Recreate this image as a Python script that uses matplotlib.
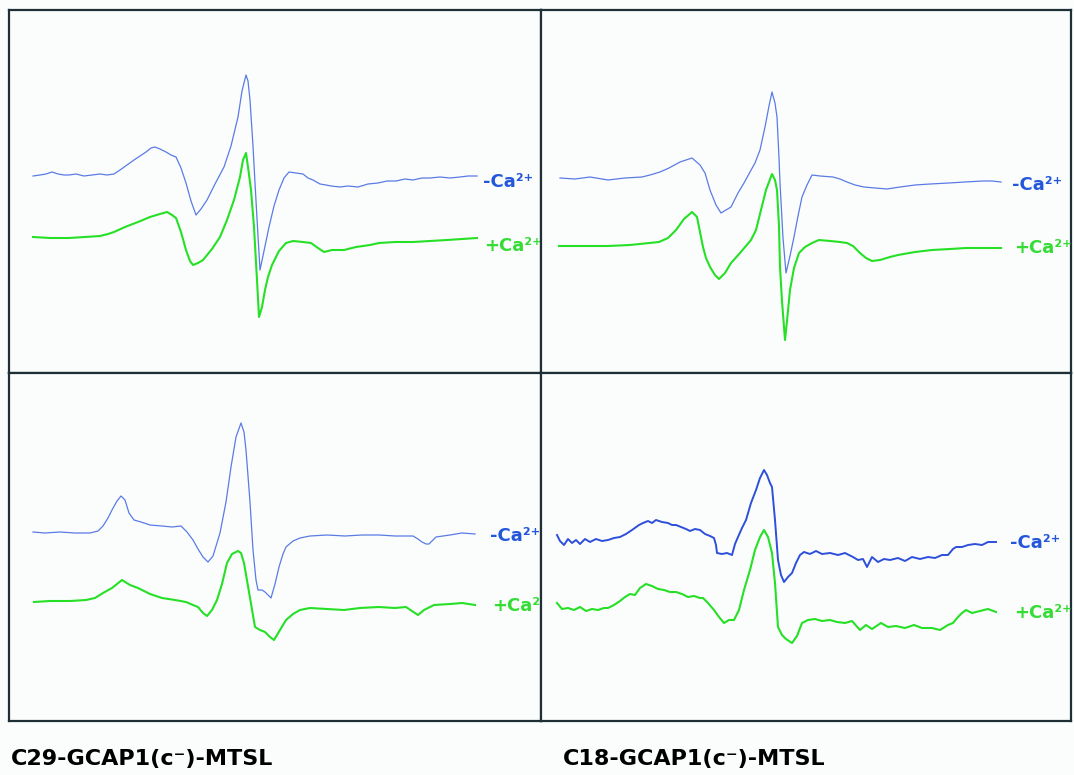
import matplotlib.pyplot as plt

# field position (arb. units) and signal amplitude for each spectrum
c29_minus_x = [33, 40, 46, 52, 58, 64, 69, 76, 84, 92, 100, 107, 114, 120, 127, 134, 140, 146, 151, 155, 160, 166, 171, 176, 181, 186, 191, 196, 201, 207, 215, 224, 231, 238, 242, 246, 248, 250, 253, 255, 258, 260, 264, 269, 274, 279, 284, 289, 296, 303, 308, 313, 320, 326, 331, 340, 348, 358, 368, 378, 387, 396, 405, 413, 422, 430, 440, 450, 460, 468, 477]
c29_minus_y = [0, 1, 2, 4, 2, 1, 1, 2, 0, 1, 2, 1, 2, 6, 11, 16, 20, 24, 28, 29, 27, 24, 21, 19, 8, -7, -25, -39, -33, -24, -8, 9, 30, 59, 85, 101, 95, 76, 30, -7, -60, -94, -75, -51, -30, -14, -2, 4, 3, 2, -2, -4, -8, -9, -10, -11, -10, -11, -8, -7, -5, -5, -3, -4, -2, -2, -1, -2, -1, 0, 0]

c29_plus_x = [33, 50, 69, 85, 100, 108, 114, 125, 138, 150, 160, 167, 172, 176, 181, 186, 190, 193, 198, 203, 212, 220, 227, 234, 240, 243, 246, 248, 251, 254, 257, 259, 262, 265, 268, 272, 279, 286, 293, 303, 311, 318, 324, 332, 344, 356, 370, 379, 395, 413, 430, 447, 462, 477]
c29_plus_y = [0, -1, -1, 0, 1, 3, 5, 10, 15, 20, 23, 25, 22, 19, 5, -13, -24, -28, -26, -23, -12, 0, 17, 37, 60, 77, 84, 70, 47, 10, -43, -80, -70, -53, -40, -28, -14, -6, -4, -5, -6, -11, -15, -13, -13, -10, -8, -6, -5, -5, -4, -3, -2, -1]

c18_minus_x = [560, 575, 590, 608, 625, 642, 650, 660, 669, 680, 692, 700, 705, 710, 716, 721, 726, 731, 738, 744, 750, 755, 760, 765, 769, 772, 775, 777, 779, 780, 783, 786, 790, 794, 798, 802, 807, 812, 820, 833, 840, 847, 855, 864, 875, 887, 900, 915, 930, 949, 965, 983, 992, 1001]
c18_minus_y = [0, -1, 1, -2, 0, 1, 3, 6, 10, 16, 20, 13, 5, -12, -27, -35, -32, -29, -15, -5, 6, 15, 28, 51, 72, 86, 75, 61, 20, -5, -60, -95, -78, -59, -38, -19, -7, 3, 2, 1, -1, -4, -7, -9, -10, -11, -9, -7, -6, -5, -4, -3, -3, -4]

c18_plus_x = [559, 580, 608, 630, 659, 668, 676, 684, 692, 697, 700, 703, 706, 710, 715, 719, 725, 731, 740, 751, 756, 761, 766, 772, 775, 777, 779, 780, 782, 785, 787, 790, 794, 799, 805, 812, 819, 830, 840, 847, 853, 860, 866, 872, 880, 890, 898, 915, 932, 950, 966, 985, 1001]
c18_plus_y = [0, 0, 0, 1, 4, 8, 16, 27, 34, 29, 14, -1, -12, -21, -29, -33, -27, -17, -7, 6, 16, 36, 56, 72, 66, 56, 20, -21, -55, -94, -75, -44, -22, -7, -1, 3, 6, 5, 4, 3, 0, -7, -12, -15, -14, -11, -9, -6, -4, -3, -2, -2, -2]

c29c_minus_x = [33, 45, 60, 75, 90, 98, 103, 108, 112, 117, 121, 125, 129, 134, 141, 150, 162, 172, 181, 187, 193, 198, 203, 208, 213, 220, 226, 231, 236, 241, 244, 246, 250, 253, 256, 258, 262, 265, 268, 271, 275, 279, 283, 286, 293, 300, 310, 327, 345, 362, 379, 395, 413, 418, 422, 426, 429, 433, 436, 450, 462, 475]
c29c_minus_y = [0, -1, 0, -1, -1, 1, 6, 14, 22, 31, 36, 32, 19, 12, 10, 7, 6, 5, 6, 0, -8, -17, -25, -30, -24, -1, 30, 65, 95, 109, 100, 82, 30, -18, -48, -58, -58, -60, -63, -66, -52, -35, -22, -15, -9, -6, -4, -3, -4, -3, -3, -4, -4, -7, -10, -12, -12, -8, -5, -3, -1, -2]

c29c_plus_x = [34, 50, 70, 86, 95, 103, 112, 122, 130, 138, 150, 162, 175, 186, 193, 198, 203, 207, 212, 217, 222, 227, 232, 238, 241, 244, 249, 255, 260, 265, 270, 274, 280, 286, 293, 300, 310, 327, 344, 360, 379, 395, 406, 412, 418, 424, 434, 450, 462, 475]
c29c_plus_y = [0, 1, 1, 2, 4, 9, 14, 22, 17, 14, 8, 4, 2, 0, -3, -5, -11, -14, -8, 2, 18, 39, 48, 51, 49, 39, 10, -25, -28, -30, -35, -38, -28, -18, -12, -8, -6, -7, -8, -6, -5, -6, -5, -9, -13, -8, -3, -2, -1, -3]

c18c_minus_x = [557, 560, 564, 568, 572, 576, 580, 585, 590, 596, 602, 608, 614, 620, 626, 632, 639, 643, 648, 652, 656, 662, 668, 672, 676, 681, 686, 690, 695, 700, 705, 710, 714, 716, 717, 722, 727, 732, 735, 738, 742, 746, 751, 756, 760, 764, 767, 770, 772, 775, 778, 781, 784, 788, 792, 796, 800, 804, 810, 816, 822, 830, 838, 845, 853, 858, 863, 867, 872, 878, 884, 890, 898, 905, 912, 920, 928, 935, 942, 948, 953, 956, 962, 968, 975, 982, 988, 996]
c18c_minus_y = [0, -6, -10, -4, -8, -5, -9, -4, -7, -4, -6, -5, -3, -2, 1, 5, 10, 12, 14, 12, 15, 13, 12, 10, 10, 8, 6, 4, 6, 5, 1, -1, -3, -10, -18, -19, -18, -20, -9, -2, 7, 15, 32, 45, 57, 65, 60, 52, 48, 15, -25, -40, -47, -42, -38, -28, -20, -17, -19, -16, -19, -18, -20, -18, -22, -25, -24, -32, -22, -27, -24, -25, -23, -26, -22, -24, -22, -23, -20, -20, -14, -12, -12, -10, -9, -10, -7, -7]

c18c_plus_x = [557, 562, 568, 574, 580, 586, 592, 598, 604, 608, 614, 620, 625, 630, 635, 640, 646, 652, 658, 664, 670, 676, 682, 688, 694, 700, 703, 708, 714, 719, 724, 729, 734, 739, 744, 750, 755, 760, 764, 768, 772, 775, 778, 782, 786, 792, 797, 802, 808, 815, 822, 830, 837, 845, 852, 860, 866, 872, 881, 888, 896, 905, 914, 922, 932, 940, 948, 953, 958, 962, 966, 972, 980, 988, 996]
c18c_plus_y = [0, -6, -5, -7, -4, -8, -6, -7, -5, -5, -2, 2, 6, 9, 8, 15, 19, 17, 14, 13, 11, 11, 9, 6, 7, 5, 5, 0, -7, -14, -20, -17, -17, -7, 13, 33, 53, 66, 73, 66, 50, 20, -24, -32, -36, -40, -33, -20, -17, -16, -18, -17, -19, -20, -18, -27, -22, -26, -20, -24, -23, -25, -22, -25, -25, -27, -22, -20, -14, -10, -7, -10, -8, -6, -9]

captions = ['C29-GCAP1(c\u207b)-MTSL', 'C18-GCAP1(c\u207b)-MTSL']
minus_label = '-Ca\u00b2\u207a'
plus_label = '+Ca\u00b2\u207a'

BLUE = '#5a7be4'
BLUE_DARK = '#2d4fd9'
GREEN = '#26e026'
FRAME = '#1e3036'
BG = '#fbfdfd'

plt.rcParams['font.family'] = ['DejaVu Sans']

W, H = 1074, 775
fig = plt.figure(figsize=(W / 100, H / 100), dpi=100, facecolor=BG)

# panel boxes in pixel terms: (left, top, right, bottom)
boxes = [(9, 10, 541, 373), (541, 10, 1071, 373),
         (9, 373, 541, 721), (541, 373, 1071, 721)]

panels = [
  # minus trace, base, plus trace, base, blue colour, blue lw, label spots
  (c29_minus_x, c29_minus_y, 176, c29_plus_x, c29_plus_y, 237, BLUE, 0.9,
   (483, 187), (484, 251)),
  (c18_minus_x, c18_minus_y, 178, c18_plus_x, c18_plus_y, 246, BLUE, 0.9,
   (1012, 190), (1014, 253)),
  (c29c_minus_x, c29c_minus_y, 532, c29c_plus_x, c29c_plus_y, 602, BLUE, 0.9,
   (490, 541), (492, 611)),
  (c18c_minus_x, c18c_minus_y, 535, c18c_plus_x, c18c_plus_y, 603, BLUE_DARK, 1.4,
   (1010, 548), (1014, 618)),
]

for (l, t, r, b), p in zip(boxes, panels):
  mx, my, mb, px, py, pb, bcol, blw, mlab, plab = p
  ax = fig.add_axes([l / W, 1 - b / H, (r - l) / W, (b - t) / H])
  ax.set_facecolor(BG)
  ax.set_xlim(l, r)
  ax.set_ylim(b, t)
  ax.plot(mx, [mb - v for v in my], color=bcol, lw=blw)
  ax.plot(px, [pb - v for v in py], color=GREEN, lw=1.5)
  ax.text(mlab[0], mlab[1], minus_label, color='#2456dc',
          fontsize=13, fontweight='bold', va='baseline', clip_on=False)
  ax.text(plab[0], plab[1], plus_label, color='#35dc35',
          fontsize=13, fontweight='bold', va='baseline', clip_on=False)
  ax.set_xticks([])
  ax.set_yticks([])
  for s in ax.spines.values():
    s.set_color(FRAME)
    s.set_linewidth(1.6)

fig.text(11 / W, 1 - 765 / H, captions[0], fontsize=16, fontweight='bold',
         va='baseline')
fig.text(563 / W, 1 - 765 / H, captions[1], fontsize=16, fontweight='bold',
         va='baseline')

plt.savefig('out.png', dpi=100, facecolor=BG)
